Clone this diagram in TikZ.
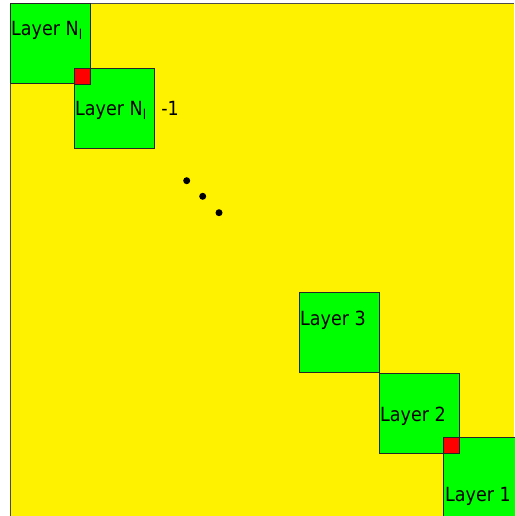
\documentclass[tikz,border=0pt]{standalone}
\usepackage{fontspec}
\setmainfont{DejaVu Sans Condensed}
\begin{document}
\begin{tikzpicture}[x=1pt,y=-1pt,
  layerbox/.style={draw=black!85, fill=green, line width=0.9pt, minimum width=80pt, minimum height=80pt, anchor=north west, inner sep=0pt, outer sep=0pt},
  overlap/.style={draw=black!85, fill=red, line width=0.9pt, minimum width=16pt, minimum height=16pt, anchor=north west, inner sep=0pt, outer sep=0pt},
  lab/.style={anchor=base west, inner sep=0pt, font=\fontsize{19.5}{20}\selectfont},
  dot/.style={circle, fill=black, minimum size=7pt, inner sep=0pt}]
\useasboundingbox (0,0) rectangle (514,516);
\fill[white] (0,0) rectangle (514,516);
\fill[yellow] (10,3) rectangle (514,516);
\draw[black!70, line width=0.9pt] (10,516) -- (10,3) -- (514,3);
% boxes
\node[layerbox] (bN) at (10,3) {};
\node[layerbox] (bN1) at (74,68) {};
\node[overlap] (rA) at (74,68) {};
\node[layerbox] (b3) at (299,292) {};
\node[layerbox] (b2) at (379,373) {};
\node[layerbox, minimum width=90pt] (b1) at (443,437) {};
\node[overlap] (rB) at (443,437) {};
% labels
\node[lab] (tN) at (11,36) {Layer N\textsubscript{l}};
\node[lab] (tN1) at (75,116) {Layer N\textsubscript{l}\hspace{9pt} -1};
\node[lab] (t3) at (300,325) {Layer 3};
\node[lab] (t2) at (380,421) {Layer 2};
\node[lab] (t1) at (445,501) {Layer 1};
% dots
\node[dot] (d1) at (186.7,180.7) {};
\node[dot] (d2) at (202.7,196.3) {};
\node[dot] (d3) at (219,212.7) {};
\end{tikzpicture}
\end{document}
